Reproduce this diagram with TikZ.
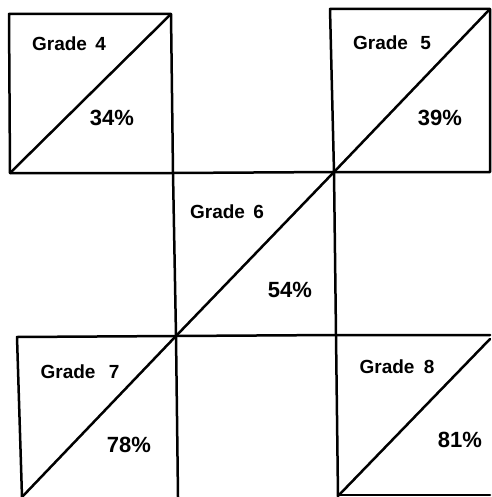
\documentclass[tikz,border=0pt]{standalone}
\usepackage{fontspec}
\setmainfont{Liberation Sans}
\begin{document}
\begin{tikzpicture}[x=1pt,y=-1pt,
  edge/.style={line width=2.5pt,line cap=round,line join=round},
  lbl/.style={font=\fontsize{19}{19}\selectfont\bfseries,inner sep=0pt},
  pct/.style={font=\fontsize{22}{22}\selectfont\bfseries,inner sep=0pt}]
\useasboundingbox (0,0) rectangle (491,497);
% corner coordinates
\coordinate (g4tl) at (9,14);   \coordinate (g4tr) at (171,14);
\coordinate (g4bl) at (10,173); \coordinate (g4br) at (173,173);
\coordinate (g5tl) at (330,9);  \coordinate (g5tr) at (490,9);
\coordinate (g5bl) at (334,172);\coordinate (g5br) at (490,172);
\coordinate (g6bl) at (176,336);\coordinate (g6br) at (336,335);
\coordinate (g7tl) at (17,337); \coordinate (g7bl) at (22,497);
\coordinate (g7br) at (178,497);
\coordinate (g8tr) at (490,335);\coordinate (g8bl) at (339,495);
\coordinate (g8br) at (490,495); \coordinate (g8d) at (490,339);
\coordinate (v2b) at (338,497);
% boxes and grid lines
\draw[edge] (g4bl) -- (g4tl) -- (g4tr) -- (g4br);
\draw[edge] (g4bl) -- (g4br) -- (g5bl) -- (g5br) -- (g5tr) -- (g5tl) -- (g5bl);
\draw[edge] (g4br) -- (g6bl) -- (g7br);
\draw[edge] (g5bl) -- (g6br) -- (v2b);
\draw[edge] (g7bl) -- (g7tl) -- (g6bl) -- (g6br) -- (g8tr);
\draw[edge] (g8bl) -- (g8br);
% diagonals
\draw[edge] (g4bl) -- (g4tr);
\draw[edge] (g5bl) -- (g5tr);
\draw[edge] (g6bl) -- (g5bl);
\draw[edge] (g7bl) -- (g6bl);
\draw[edge] (g8bl) -- (g8d);
% labels
\node[lbl] (t4) at (69,44) {Grade\hspace{3pt} 4};
\node[pct] (p4) at (112,118) {34\%};
\node[lbl] (t5) at (392,43) {Grade\hspace{7pt} 5};
\node[pct] (p5) at (440,118) {39\%};
\node[lbl] (t6) at (227,212) {Grade\hspace{3pt} 6};
\node[pct] (p6) at (290,290) {54\%};
\node[lbl] (t7) at (80,372) {Grade\hspace{8pt} 7};
\node[pct] (p7) at (129,445) {78\%};
\node[lbl] (t8) at (397,367) {Grade\hspace{4pt} 8};
\node[pct] (p8) at (460,440) {81\%};
\end{tikzpicture}
\end{document}
